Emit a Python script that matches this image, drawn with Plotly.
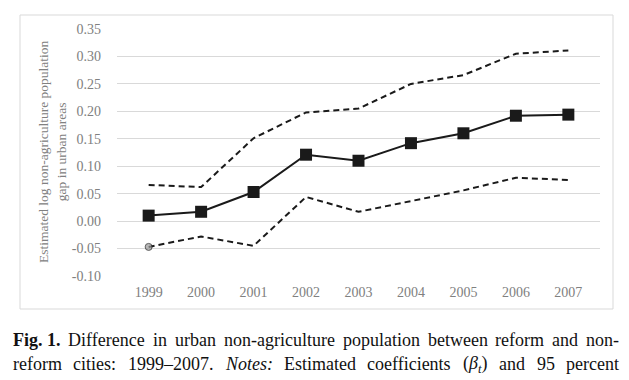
import plotly.graph_objects as go

years = ["1999", "2000", "2001", "2002", "2003", "2004", "2005", "2006", "2007"]
estimate = [0.010, 0.017, 0.053, 0.121, 0.110, 0.142, 0.160, 0.192, 0.194]
upper_ci = [0.066, 0.062, 0.151, 0.198, 0.205, 0.250, 0.266, 0.305, 0.311]
lower_ci = [-0.047, -0.028, -0.045, 0.044, 0.017, 0.036, 0.056, 0.079, 0.075]
y_ticks = [-0.10, -0.05, 0.00, 0.05, 0.10, 0.15, 0.20, 0.25, 0.30, 0.35]

y_title = "Estimated log non-agriculture population<br>gap in urban areas"
# caption words: (plain text for measuring, style)
caption_line1 = [("Fig. 1.", "b"), ("Difference", ""), ("in", ""), ("urban", ""),
                 ("non-agriculture", ""), ("population", ""), ("between", ""),
                 ("reform", ""), ("and", ""), ("non-", "")]
caption_line2 = [("reform", ""), ("cities:", ""), ("1999–2007.", ""), ("Notes:", "i"),
                 ("Estimated", ""), ("coefficients", ""), ("(β_t)", "beta"),
                 ("and", ""), ("95", ""), ("percent", "")]

W, H = 629, 380
L, R, T, B = 117, 29, 29, 104
pw, ph = W - L - R, H - T - B
CAP_SIZE = 18
CAP_LEFT, CAP_RIGHT = 13, 619

def px(x):
    return (x - L) / pw

def py(y):
    return (H - B - y) / ph

# Times / Liberation Serif advance widths (1/1000 em)
ROMAN = {" ": 250, "(": 333, ")": 333, "-": 333, ".": 250, ":": 278, "–": 500,
         "a": 444, "b": 500, "c": 444, "d": 500, "e": 444, "f": 333, "g": 500,
         "h": 500, "i": 278, "l": 278, "m": 778, "n": 500, "o": 500, "p": 500,
         "r": 333, "s": 389, "t": 278, "u": 500, "w": 722, "y": 500,
         "D": 722, "E": 611, "F": 556, "N": 722}
for d in "0123456789":
    ROMAN[d] = 500
BOLD = dict(ROMAN, F=611)
ITALIC = dict(ROMAN, N=667, **{":": 333})

def width(word, style):
    if style == "beta":
        return (333 + 520 + 200 + 333) * CAP_SIZE / 1000
    table = BOLD if style == "b" else ITALIC if style == "i" else ROMAN
    return sum(table.get(c, 500) for c in word) * CAP_SIZE / 1000

def markup(word, style):
    if style == "b":
        return f"<b>{word}</b>"
    if style == "i":
        return f"<i>{word}</i>"
    if style == "beta":
        return "(<i>β<sub>t</sub></i>)"
    return word

def justify(words):
    ws = [width(w, s) for w, s in words]
    gap = (CAP_RIGHT - CAP_LEFT - sum(ws)) / (len(words) - 1)
    xs, x = [], CAP_LEFT
    for w in ws:
        xs.append(x)
        x += w + gap
    return xs

fig = go.Figure()
fig.add_trace(go.Scatter(x=years, y=upper_ci, mode="lines",
                         line=dict(color="#1a1a1a", width=2, dash="6px,4px"),
                         hoverinfo="skip"))
fig.add_trace(go.Scatter(x=years, y=lower_ci, mode="lines+markers",
                         line=dict(color="#1a1a1a", width=2, dash="6px,4px"),
                         marker=dict(size=[7] + [0] * 8, color="#999999"),
                         hoverinfo="skip"))
fig.add_trace(go.Scatter(x=years, y=estimate, mode="lines+markers",
                         line=dict(color="#1a1a1a", width=2),
                         marker=dict(symbol="square", size=12, color="#1a1a1a")))

serif = "Liberation Serif, Times New Roman, serif"
fig.update_layout(
    width=W, height=H, autosize=False,
    margin=dict(l=L, r=R, t=T, b=B),
    paper_bgcolor="white", plot_bgcolor="white",
    showlegend=False,
    font=dict(family=serif, color="#808080", size=14),
    xaxis=dict(type="category", showgrid=False, zeroline=False, showline=False,
               ticks="", ticklabelstandoff=6,
               tickfont=dict(family=serif, size=14, color="#808080")),
    yaxis=dict(range=[-0.10, 0.35], tickvals=y_ticks,
               ticktext=[f"{v:.2f}" for v in y_ticks],
               showgrid=True, gridcolor="#d9d9d9", gridwidth=1,
               zeroline=False, showline=False, ticks="", ticklabelstandoff=15,
               tickfont=dict(family=serif, size=14, color="#808080")),
)

fig.add_shape(type="rect", xref="paper", yref="paper",
              x0=px(20), x1=px(613), y0=py(309), y1=py(15),
              line=dict(color="#d9d9d9", width=1), fillcolor="rgba(0,0,0,0)", layer="below")

fig.add_annotation(xref="paper", yref="paper", x=px(52), y=py(152), textangle=-90,
                   text=y_title,
                   showarrow=False, font=dict(family=serif, size=13.5, color="#808080"),
                   xanchor="center", yanchor="middle")

for words, yc in ((caption_line1, 340), (caption_line2, 364)):
    for (w, s), x in zip(words, justify(words)):
        fig.add_annotation(xref="paper", yref="paper", x=px(x), y=py(yc),
                           xanchor="left", yanchor="middle", text=markup(w, s),
                           showarrow=False, borderpad=0, borderwidth=0,
                           font=dict(family=serif, size=CAP_SIZE, color="#111111"))

fig.write_html("out.html", config={"displayModeBar": False},
               post_script="document.body.style.margin='0';")
